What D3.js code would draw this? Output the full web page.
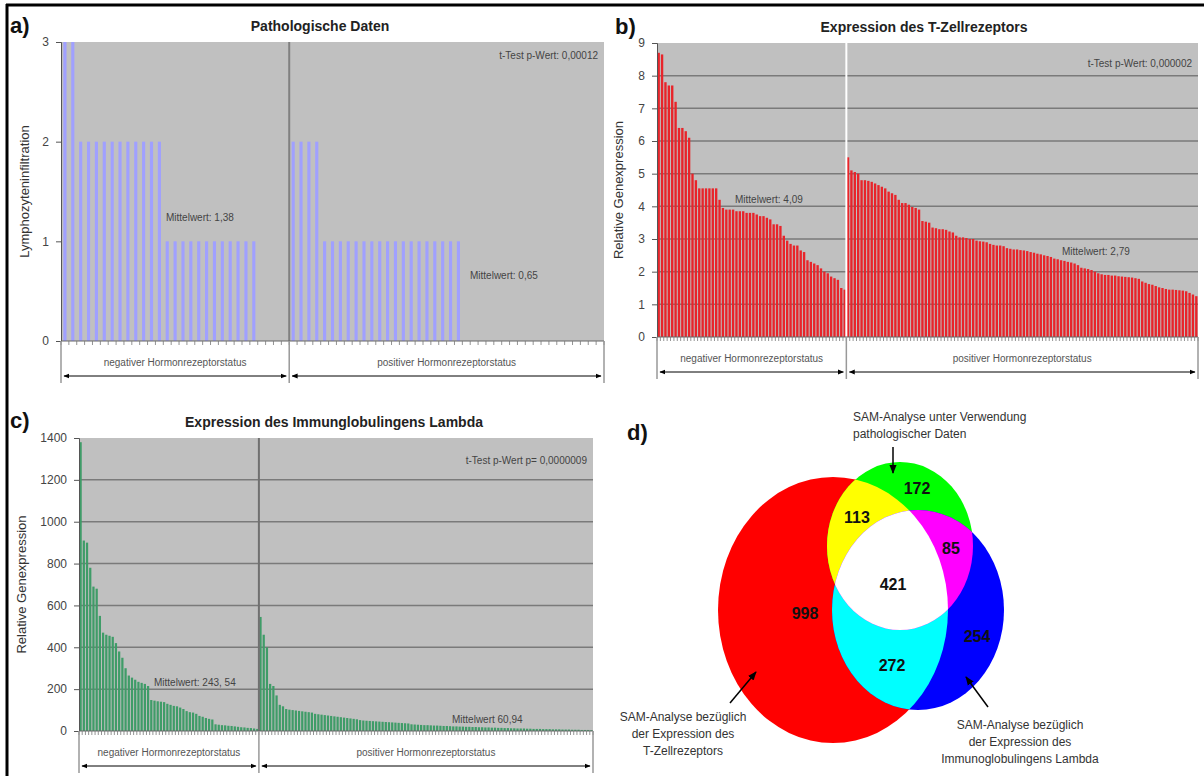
<!DOCTYPE html>
<html>
<head>
<meta charset="utf-8">
<script src="https://cdn.jsdelivr.net/npm/d3@7/dist/d3.min.js"></script>
<style>
body { margin: 0; background: #fff; }
svg text { font-family: Arial, "Liberation Sans", sans-serif; }
</style>
</head>
<body>
<svg id="fig" width="1204" height="776"></svg>
<script>
// ---- data ----

// a) Lymphozyteninfiltration per patient
var a_neg = [3,3,2,2,2,2,2,2,2,2,2,2,2,1,1,1,1,1,1,1,1,1,1,1,1,0,0,0,0];
var a_pos = [2,2,2,2,1,1,1,1,1,1,1,1,1,1,1,1,1,1,1,1,1,1,
             0,0,0,0,0,0,0,0,0,0,0,0,0,0,0,0,0,0];

// b) T-Zellrezeptor, relative Genexpression
var b_neg = [8.7,8.65,7.8,7.7,7.7,7.2,6.4,6.4,6.3,6.1,5.0,4.8,4.55,4.55,4.55,4.55,4.55,4.55,
             4.2,3.95,3.9,3.9,3.9,3.85,3.85,3.85,3.8,3.8,3.8,3.75,3.7,3.7,3.65,3.6,
             3.45,3.45,3.4,3.1,2.95,2.85,2.8,2.8,2.65,2.6,2.35,2.3,2.25,2.2,2.1,2.0,1.95,
             1.85,1.8,1.75,1.5,1.45];
var b_pos = [5.5,5.1,5.05,5.0,4.8,4.8,4.78,4.75,4.7,4.65,4.6,4.55,4.45,4.4,4.35,4.2,
             4.1,4.1,4.05,3.98,3.95,3.9,3.55,3.53,3.5,3.35,3.33,3.3,3.3,3.28,3.23,3.2,
             3.1,3.05,3.05,3.03,3.0,3.0,2.95,2.93,2.92,2.9,2.85,2.82,2.8,2.8,2.78,
             2.72,2.7,2.68,2.68,2.66,2.65,2.63,2.6,2.58,2.55,2.53,2.5,2.48,2.45,
             2.4,2.38,2.35,2.33,2.3,2.28,2.25,2.2,2.12,2.1,2.08,2.05,2.0,
             1.95,1.92,1.9,1.9,1.88,1.88,1.86,1.85,1.84,1.83,1.82,1.8,1.78,
             1.7,1.66,1.62,1.6,1.56,1.52,1.5,1.47,1.45,1.45,1.44,1.43,1.42,1.4,
             1.35,1.3,1.25];

// c) Immunglobulingen Lambda, relative Genexpression
var c_neg = [1380,910,900,780,690,680,550,470,460,455,450,420,380,350,300,265,255,245,
             235,230,225,215,148,145,142,140,138,130,125,120,118,112,105,95,90,88,82,
             72,68,62,58,55,32,30,28,27,25,24,22,20,18,17,15,14,12,10];
var c_pos = [545,460,400,225,215,170,125,118,105,102,100,98,96,94,92,90,88,
             82,80,78,76,74,72,70,68,66,64,62,60,58,56,
             52,50,49,48,47,46,45,44,43,42,41,40,39,38,37,36,
             32,31,30,29,28,28,27,26,26,25,24,24,23,22,22,21,21,20,20,19,19,
             18,18,17,17,16,16,15,15,14,14,13,13,12,12,12,
             11,11,10,10,10,9,9,9,8,8,8,7,7,7,6,6,6,5,5,5,4];

var a_ticks = [0,1,2,3];
var b_ticks = [0,1,2,3,4,5,6,7,8,9];
var c_ticks = [0,200,400,600,800,1000,1200,1400];

var group_labels = ["negativer Hormonrezeptorstatus", "positiver Hormonrezeptorstatus"];

// d) Venn: counts per region
var venn_regions = ["T", "TP", "P", "PL", "TPL", "TL", "L"];
var venn_counts = [998, 113, 172, 85, 421, 272, 254];

// ---- drawing ----
var svg = d3.select("#fig");
var defs = svg.append("defs");

defs.append("marker")
    .attr("id", "ah")
    .attr("viewBox", "0 0 10 10")
    .attr("refX", 9).attr("refY", 5)
    .attr("markerWidth", 6).attr("markerHeight", 6)
    .attr("orient", "auto-start-reverse")
    .append("path")
    .attr("d", "M0,1 L10,5 L0,9 z")
    .attr("fill", "#000");

// frame
svg.append("line").attr("x1", 6).attr("x2", 1204).attr("y1", 5).attr("y2", 5)
    .attr("stroke", "#000").attr("stroke-width", 3);
svg.append("line").attr("x1", 7).attr("x2", 7).attr("y1", 4).attr("y2", 776)
    .attr("stroke", "#000").attr("stroke-width", 3);

function bar_panel(p){
    var vals = p.neg.concat(p.pos);
    var n = vals.length;
    var g = svg.append("g");

    var xb = d3.scaleLinear().domain([0, n]).range([p.x0, p.x1]);
    var x = d3.scaleBand().domain(d3.range(n)).range([p.x0, p.x1])
        .paddingInner(p.pad).paddingOuter(p.pad / 2);
    var y = d3.scaleLinear().domain([0, p.ymax]).range([p.y1, p.y0]);

    g.append("rect")
        .attr("x", p.x0).attr("y", p.y0)
        .attr("width", p.x1 - p.x0).attr("height", p.y1 - p.y0)
        .attr("fill", "#c0c0c0");

    if (p.grid){
        g.selectAll(".grid")
            .data(p.ticks.filter(function(t){ return t > 0 && t < p.ymax; }))
            .enter().append("line")
            .attr("x1", p.x0).attr("x2", p.x1)
            .attr("y1", function(d){ return y(d); })
            .attr("y2", function(d){ return y(d); })
            .attr("stroke", "#7a7a7a").attr("stroke-width", 1.5);
    }

    g.selectAll(".bar")
        .data(vals)
        .enter().append("rect")
        .attr("x", function(d, i){ return x(i); })
        .attr("width", x.bandwidth())
        .attr("y", function(d){ return y(d); })
        .attr("height", function(d){ return y(0) - y(d); })
        .attr("fill", p.color);

    // divider between the two groups
    var xd = xb(p.neg.length);
    g.append("line")
        .attr("x1", xd).attr("x2", xd).attr("y1", p.y0).attr("y2", p.y1)
        .attr("stroke", p.divider).attr("stroke-width", 2);

    // y axis
    var ya = g.append("g")
        .attr("transform", "translate(" + p.x0 + ",0)")
        .call(d3.axisLeft(y).tickValues(p.ticks).tickFormat(d3.format("d"))
              .tickSize(5).tickPadding(7));
    ya.select(".domain").attr("stroke", "#555");
    ya.selectAll(".tick line").attr("stroke", "#555");
    ya.selectAll(".tick text").attr("fill", "#444").style("font-size", "12px");

    // x axis with a tick at every category border
    g.append("line")
        .attr("x1", p.x0).attr("x2", p.x1).attr("y1", p.y1).attr("y2", p.y1)
        .attr("stroke", "#666").attr("stroke-width", 1);
    g.selectAll(".xt")
        .data(d3.range(n + 1))
        .enter().append("line")
        .attr("x1", function(d){ return xb(d); })
        .attr("x2", function(d){ return xb(d); })
        .attr("y1", p.y1).attr("y2", p.y1 + 4)
        .attr("stroke", "#777").attr("stroke-width", 0.8);

    // group boxes with arrows
    var edges = [0, p.neg.length, n];
    g.selectAll(".gb")
        .data(edges)
        .enter().append("line")
        .attr("x1", function(d){ return xb(d); })
        .attr("x2", function(d){ return xb(d); })
        .attr("y1", p.y1).attr("y2", p.y1 + 42)
        .attr("stroke", "#999").attr("stroke-width", 1.5);
    [0, 1].forEach(function(k){
        var a = xb(edges[k]), b = xb(edges[k + 1]);
        g.append("text")
            .attr("x", (a + b) / 2).attr("y", p.y1 + 25)
            .attr("text-anchor", "middle")
            .attr("fill", "#555").style("font-size", "10px")
            .text(group_labels[k]);
        g.append("line")
            .attr("x1", a + 3).attr("x2", b - 3)
            .attr("y1", p.y1 + 35).attr("y2", p.y1 + 35)
            .attr("stroke", "#000").attr("stroke-width", 1)
            .attr("marker-start", "url(#ah)").attr("marker-end", "url(#ah)");
    });

    // titles and notes
    g.append("text").attr("x", p.letter_x).attr("y", p.letter_y)
        .style("font-size", "22px").style("font-weight", "bold").attr("fill", "#111")
        .text(p.letter);
    g.append("text").attr("x", p.title_x).attr("y", p.title_y)
        .attr("text-anchor", "middle")
        .style("font-size", "14px").style("font-weight", "bold").attr("fill", "#222")
        .text(p.title);
    g.append("text")
        .attr("transform", "translate(" + p.ylab_x + "," + ((p.y0 + p.y1) / 2) + ") rotate(-90)")
        .attr("text-anchor", "middle")
        .style("font-size", "13px").attr("fill", "#333")
        .text(p.ylab);
    g.append("text").attr("x", p.x1 - 6).attr("y", p.y0 + p.ptest_dy)
        .attr("text-anchor", "end").style("font-size", "10px").attr("fill", "#444")
        .text(p.ptest);
    p.means.forEach(function(m){
        g.append("text").attr("x", m.x).attr("y", y(m.v))
            .style("font-size", "10px").attr("fill", "#444")
            .text(m.label);
    });
}

bar_panel({
    neg: a_neg, pos: a_pos, ticks: a_ticks, ymax: 3,
    x0: 61, x1: 604, y0: 42, y1: 341, pad: 0.6,
    color: "#a0a0ff", divider: "#808080", grid: false,
    letter: "a)", letter_x: 10, letter_y: 33,
    title: "Pathologische Daten", title_x: 320, title_y: 31,
    ylab: "Lymphozyteninfiltration", ylab_x: 29,
    ptest: "t-Test p-Wert: 0,00012", ptest_dy: 17,
    means: [{x: 166, v: 1.2, label: "Mittelwert: 1,38"},
            {x: 470, v: 0.62, label: "Mittelwert: 0,65"}]
});

bar_panel({
    neg: b_neg, pos: b_pos, ticks: b_ticks, ymax: 9,
    x0: 657, x1: 1198, y0: 43, y1: 337, pad: 0.3,
    color: "#e8242a", divider: "#ffffff", grid: true,
    letter: "b)", letter_x: 615, letter_y: 34,
    title: "Expression des T-Zellrezeptors", title_x: 924, title_y: 32,
    ylab: "Relative Genexpression", ylab_x: 623,
    ptest: "t-Test p-Wert: 0,000002", ptest_dy: 24,
    means: [{x: 735, v: 4.09, label: "Mittelwert: 4,09"},
            {x: 1062, v: 2.5, label: "Mittelwert: 2,79"}]
});

bar_panel({
    neg: c_neg, pos: c_pos, ticks: c_ticks, ymax: 1400,
    x0: 79, x1: 593, y0: 438, y1: 731, pad: 0.3,
    color: "#3f9c68", divider: "#707070", grid: true,
    letter: "c)", letter_x: 10, letter_y: 428,
    title: "Expression des Immunglobulingens Lambda", title_x: 334, title_y: 427,
    ylab: "Relative Genexpression", ylab_x: 26,
    ptest: "t-Test p-Wert p= 0,0000009", ptest_dy: 26,
    means: [{x: 154, v: 215, label: "Mittelwert: 243, 54"},
            {x: 452, v: 40, label: "Mittelwert 60,94"}]
});

// ---- d) Venn diagram ----
var venn = {
    T: {cx: 833, cy: 610, rx: 115, ry: 133},
    P: {cx: 900, cy: 546, rx: 73, ry: 84},
    L: {cx: 918, cy: 610, rx: 86, ry: 100}
};
var region_fill = {T: "#ff0000", P: "#00ff00", L: "#0000ff",
                   TP: "#ffff00", TL: "#00ffff", PL: "#ff00ff", TPL: "#ffffff"};
var region_pos = {T: [805, 619], TP: [857, 523], P: [917, 494], PL: [951, 554],
                  TPL: [893, 590], TL: [892, 671], L: [977, 642]};

function ell(sel, e, fill){
    return sel.append("ellipse")
        .attr("cx", e.cx).attr("cy", e.cy).attr("rx", e.rx).attr("ry", e.ry)
        .attr("fill", fill);
}
["T", "P"].forEach(function(k){
    ell(defs.append("clipPath").attr("id", "clip" + k), venn[k], "#000");
});

var vg = svg.append("g");
ell(vg, venn.T, region_fill.T);
ell(vg, venn.P, region_fill.P);
ell(vg, venn.L, region_fill.L);
var inT = vg.append("g").attr("clip-path", "url(#clipT)");
ell(inT, venn.P, region_fill.TP);
ell(inT, venn.L, region_fill.TL);
var inP = vg.append("g").attr("clip-path", "url(#clipP)");
ell(inP, venn.L, region_fill.PL);
// centre: inside all three
ell(vg.append("g").attr("clip-path", "url(#clipT)")
      .append("g").attr("clip-path", "url(#clipP)"), venn.L, region_fill.TPL);

vg.selectAll(".vl")
    .data(venn_regions)
    .enter().append("text")
    .attr("x", function(d){ return region_pos[d][0]; })
    .attr("y", function(d){ return region_pos[d][1]; })
    .attr("text-anchor", "middle")
    .style("font-size", "16px").style("font-weight", "bold")
    .attr("fill", "#111")
    .text(function(d, i){ return venn_counts[i]; });

svg.append("text").attr("x", 627).attr("y", 440)
    .style("font-size", "22px").style("font-weight", "bold").attr("fill", "#111")
    .text("d)");

function note(lines, x, y, anchor){
    var t = svg.append("text").attr("x", x).attr("y", y)
        .attr("text-anchor", anchor)
        .style("font-size", "12px").attr("fill", "#333");
    lines.forEach(function(s, i){
        t.append("tspan").attr("x", x).attr("dy", i == 0 ? 0 : 17).text(s);
    });
}
function arrow(x1, y1, x2, y2){
    svg.append("line").attr("x1", x1).attr("y1", y1).attr("x2", x2).attr("y2", y2)
        .attr("stroke", "#000").attr("stroke-width", 1.5)
        .attr("marker-end", "url(#ah)");
}
note(["SAM-Analyse unter Verwendung", "pathologischer Daten"], 853, 421, "start");
arrow(893, 447, 893, 473);
note(["SAM-Analyse bezüglich", "der Expression des", "T-Zellrezeptors"], 683, 721, "middle");
arrow(730, 703, 756, 672);
note(["SAM-Analyse bezüglich", "der Expression des", "Immunoglobulingens Lambda"], 1020, 729, "middle");
arrow(988, 707, 966, 677);
</script>
</body>
</html>
